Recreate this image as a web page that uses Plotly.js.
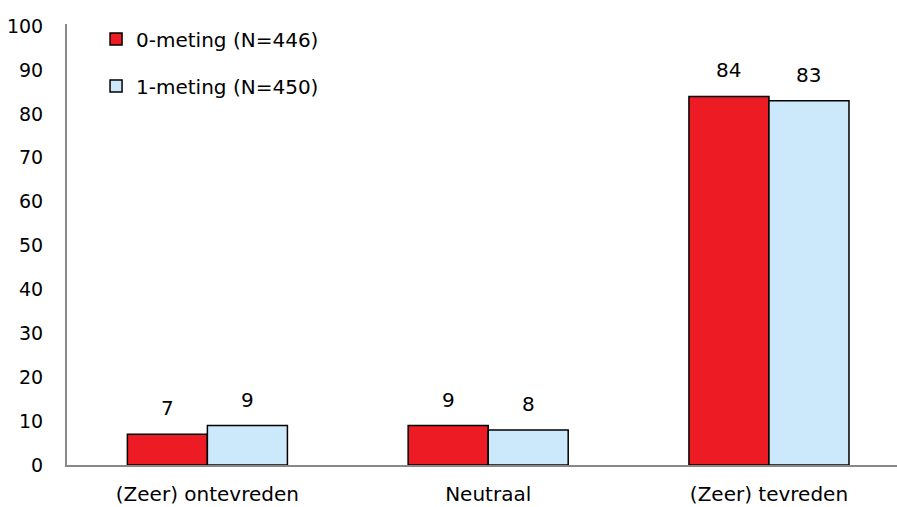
<!DOCTYPE html>
<html>
<head>
<meta charset="utf-8">
<script src="https://cdn.plot.ly/plotly-3.0.1.min.js"></script>
<style>html,body{margin:0;padding:0;background:#fff;}#chart{width:897px;height:507px;}</style>
</head>
<body>
<div id="chart"></div>
<script>
const categories = ["(Zeer) ontevreden", "Neutraal", "(Zeer) tevreden"];
const seriesNames = ["0-meting (N=446)", "1-meting (N=450)"];
const meting0 = [7, 9, 84];
const meting1 = [9, 8, 83];
const yTicks = [0, 10, 20, 30, 40, 50, 60, 70, 80, 90, 100];

const FONT = "'DejaVu Sans', sans-serif";
const colors = ["#ED1C24", "#CCE9FB"];
const seriesValues = [meting0, meting1];

const traces = seriesValues.map((vals, i) => ({
  type: "bar",
  name: seriesNames[i],
  x: categories,
  y: vals,
  legendgroup: "g" + i,
  marker: {color: colors[i], line: {color: "#000", width: 1.5}},
  hoverinfo: "none"
}));

const annotations = [];
seriesValues.forEach((vals, i) => {
  vals.forEach((v, j) => {
    annotations.push({
      x: j, y: v, xref: "x", yref: "y",
      xshift: (i === 0 ? -40 : 40), yshift: 26,
      text: String(v), showarrow: false,
      font: {family: FONT, size: 20, color: "#000"}
    });
  });
});

const layout = {
  width: 897, height: 507,
  margin: {l: 67, r: 0, t: 24, b: 42},
  paper_bgcolor: "#fff", plot_bgcolor: "#fff",
  font: {family: FONT, size: 20, color: "#000"},
  barmode: "group",
  bargap: 0.43,
  bargroupgap: 0,
  showlegend: true,
  legend: {
    x: 0.035, y: 1.01, xanchor: "left", yanchor: "top",
    traceorder: "grouped", tracegroupgap: 18,
    bgcolor: "rgba(0,0,0,0)",
    font: {family: FONT, size: 20, color: "#000"},
    itemclick: false
  },
  xaxis: {
    type: "category",
    range: [-0.5, 2.456],
    showline: true, linecolor: "#888", linewidth: 2,
    showgrid: false, zeroline: false, ticks: "",
    ticklabelstandoff: 10,
    fixedrange: true
  },
  yaxis: {
    range: [0, 100.5],
    tickvals: yTicks,
    ticktext: yTicks.map(String),
    showline: true, linecolor: "#888", linewidth: 2,
    showgrid: false, zeroline: false, ticks: "",
    ticklabelstandoff: 18,
    tickfont: {family: FONT, size: 19, color: "#000"},
    fixedrange: true
  },
  annotations: annotations
};

Plotly.newPlot("chart", traces, layout, {displayModeBar: false, staticPlot: true});
</script>
</body>
</html>
